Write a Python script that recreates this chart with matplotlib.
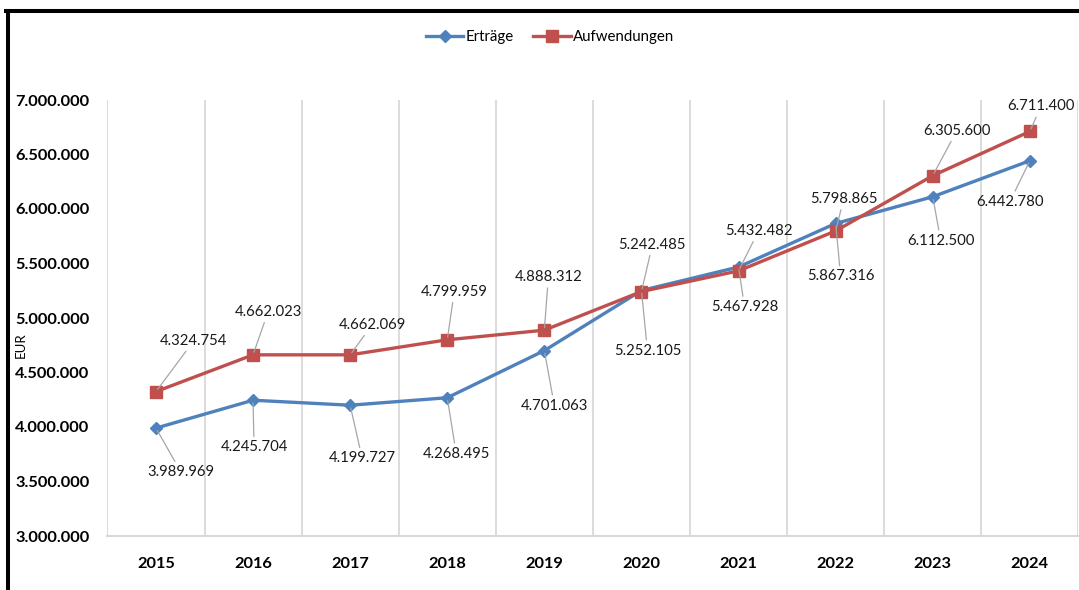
import matplotlib
matplotlib.use("Agg")
import matplotlib.pyplot as plt
from matplotlib.lines import Line2D
from matplotlib.ticker import FuncFormatter, MultipleLocator
import numpy as np

plt.rcParams["font.family"] = ["Lato", "DejaVu Sans"]

# Data
years = ["2015", "2016", "2017", "2018", "2019", "2020", "2021", "2022", "2023", "2024"]
ertraege = [3989969, 4245704, 4199727, 4268495, 4701063,
            5252105, 5467928, 5867316, 6112500, 6442780]
aufwendungen = [4324754, 4662023, 4662069, 4799959, 4888312,
                5242485, 5432482, 5798865, 6305600, 6711400]

# Label placement (pixel offsets from each point, +y is up)
ertraege_label_off = [(25, -44), (1, -47), (12, -53), (9, -56), (10, -55),
                      (6, -60), (6, -40), (5, -53), (8, -44), (-20, -41)]
aufw_label_off = [(38, 51), (15, 43), (22, 30), (7, 48), (4, 53),
                  (11, 47), (20, 40), (8, 32), (24, 45), (11, 25)]

BLUE = "#4f81bd"
RED = "#c0504d"
GRID = "#d9d9d9"
LEADER = "#a6a6a6"

W, H = 1079, 590
fig = plt.figure(figsize=(W / 100, H / 100), dpi=100)
ax = fig.add_axes([107.4 / W, 1 - 536 / H, 971 / W, 436 / H])

x = np.arange(len(years))
ax.plot(x, ertraege, color=BLUE, lw=2.4, marker="D", markersize=6.5,
        label="Erträge", zorder=3)
ax.plot(x, aufwendungen, color=RED, lw=2.4, marker="s", markersize=8.5,
        label="Aufwendungen", zorder=3)


def _fmt(v, _pos):
    return f"{v:,.0f}".replace(",", ".")


def _label(xi, val, off):
    ax.annotate(
        _fmt(val, None),
        xy=(xi, val),
        xytext=off,
        textcoords="offset pixels",
        ha="center",
        va="center",
        fontsize=10.7,
        color="#1a1a1a",
        bbox=dict(boxstyle="square,pad=0.25", fc="none", ec="none"),
        arrowprops=dict(arrowstyle="-", color=LEADER, lw=0.9,
                        shrinkA=0, shrinkB=2),
        zorder=4,
    )


for i in range(len(years)):
    _label(x[i], aufwendungen[i], aufw_label_off[i])
    _label(x[i], ertraege[i], ertraege_label_off[i])

ax.set_xlim(-0.5, len(years) - 0.5)
ax.set_ylim(3000000, 7000000)
ax.yaxis.set_major_locator(MultipleLocator(500000))
ax.yaxis.set_major_formatter(FuncFormatter(_fmt))
ax.set_xticks(x)
ax.set_xticklabels(years)
ax.set_xticks(np.arange(-0.5, len(years), 1), minor=True)
ax.grid(which="minor", axis="x", color=GRID, lw=1.3)
ax.grid(which="major", visible=False)
ax.tick_params(which="both", length=0)
ax.tick_params(axis="y", pad=13, labelsize=11.8)
ax.tick_params(axis="x", pad=15, labelsize=11.8)
for lbl in ax.get_xticklabels() + ax.get_yticklabels():
    lbl.set_fontweight("bold")

for side in ("left", "top", "right"):
    ax.spines[side].set_visible(False)
ax.spines["bottom"].set_color(GRID)
ax.spines["bottom"].set_linewidth(1.5)

fig.text(20.7 / W, 1 - 345 / H, "EUR", rotation=90, fontsize=9.5,
         ha="center", va="center")

fig.legend(loc="center", bbox_to_anchor=(550 / W, 1 - 37 / H), ncol=2,
           frameon=False, fontsize=10.8, handlelength=2.5,
           handletextpad=0.15, columnspacing=1.3)

# black frame on the left and top edge
fig.add_artist(Line2D([8 / W, 8 / W], [0, 1 - 11 / H], transform=fig.transFigure,
                      color="black", lw=2.9))
fig.add_artist(Line2D([6 / W, 1], [1 - 11 / H, 1 - 11 / H], transform=fig.transFigure,
                      color="black", lw=2.9))

fig.savefig("out.png", dpi=100)
plt.close(fig)
